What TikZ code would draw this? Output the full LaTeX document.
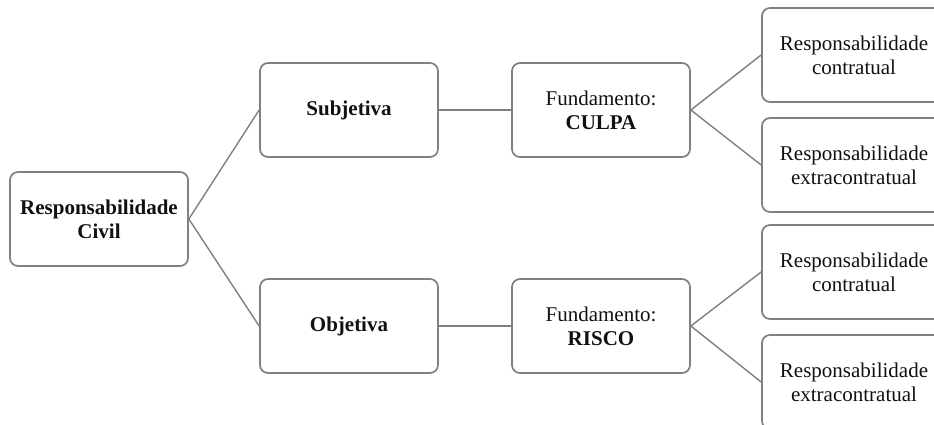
\documentclass[tikz,border=0pt]{standalone}
\usepackage{fontspec}
\setmainfont{Liberation Serif}
\usepackage{tikz}
\usetikzlibrary{positioning}
\definecolor{frame}{HTML}{808080}
\definecolor{ink}{HTML}{111111}

\begin{document}
\begin{tikzpicture}[x=1pt,y=-1pt,
  box/.style={draw=frame,line width=1.7pt,rounded corners=8pt,fill=white,
    minimum width=178pt,minimum height=94pt,align=center,text=ink,
    font=\fontsize{21}{24}\selectfont},
  leafbox/.style={box,minimum width=184pt},
  link/.style={draw=frame,line width=1.4pt}]
\clip (0,0) rectangle (934,424);
\fill[white] (0,0) rectangle (934,424);
% level 0 and 1
\node[box] (civil) at (99,219) {\textbf{Responsabilidade}\\\textbf{Civil}};
\node[box] (subj) at (349,110) {\textbf{Subjetiva}};
\node[box] (obj) at (349,326) {\textbf{Objetiva}};
% fundamentos
\node[box] (culpa) at (601,110) {Fundamento:\\\textbf{CULPA}};
\node[box] (risco) at (601,326) {Fundamento:\\\textbf{RISCO}};
% leaves
\node[leafbox] (ctr1) at (854,55) {Responsabilidade\\contratual};
\node[leafbox] (ext1) at (854,165) {Responsabilidade\\extracontratual};
\node[leafbox] (ctr2) at (854,272) {Responsabilidade\\contratual};
\node[leafbox] (ext2) at (854,382) {Responsabilidade\\extracontratual};
\path[link] (civil.east) -- (subj.west) (civil.east) -- (obj.west);
\path[link] (subj.east) -- (culpa.west) (obj.east) -- (risco.west);
\path[link] (culpa.east) -- (ctr1.west) (culpa.east) -- (ext1.west);
\path[link] (risco.east) -- (ctr2.west) (risco.east) -- (ext2.west);
\end{tikzpicture}
\end{document}
